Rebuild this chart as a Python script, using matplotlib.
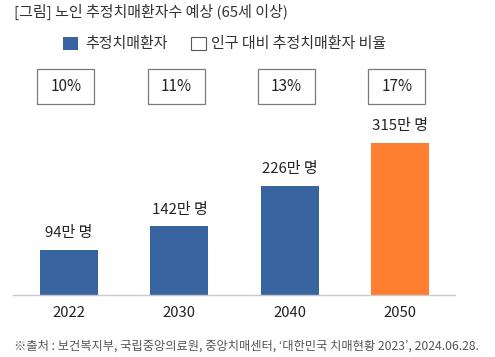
import matplotlib
matplotlib.use('Agg')
import matplotlib.pyplot as plt
from matplotlib.patches import Rectangle
from matplotlib.transforms import blended_transform_factory

plt.rcParams['font.family'] = ['Noto Sans CJK KR', 'DejaVu Sans']

# 데이터
years = ['2022', '2030', '2040', '2050']
patients = [94, 142, 226, 315]          # 만 명
ratios = ['10%', '11%', '13%', '17%']
bar_colors = ['#3865A0', '#3865A0', '#3865A0', '#FF7F30']

W, H = 495, 357
fig = plt.figure(figsize=(W / 100, H / 100), dpi=100)
fig.patch.set_facecolor('white')


def fx(px):
    return px / W


def fy(py):
    return 1 - py / H


# 막대 영역: 픽셀 기준 x 13~455, 기준선 y 295
ax = fig.add_axes([fx(13), fy(295), fx(455 - 13), (295 - 120) / H])
x = range(len(years))
ax.bar(x, patients, width=0.526, color=bar_colors, zorder=2)
ax.set_xlim(-0.508, 3.498)
ax.set_ylim(0, 175 / 0.483)
for s in ['top', 'right', 'left']:
    ax.spines[s].set_visible(False)
ax.spines['bottom'].set_color('#C8C8C8')
ax.spines['bottom'].set_linewidth(1.0)
ax.set_yticks([])
ax.set_xticks(list(x))
ax.set_xticklabels(years, fontsize=10.7, color='#222222')
ax.tick_params(axis='x', length=0, pad=8)

for i, v in enumerate(patients):
    ax.annotate(f'{v}만 명', (i, v), xytext=(0, 7), textcoords='offset points',
                ha='center', va='bottom', fontsize=10.8, color='#222222')

# 비율 박스 (x는 데이터 좌표, y는 figure 좌표)
trans = blended_transform_factory(ax.transData, fig.transFigure)
box_w = 57 / 110.33
for i, r in enumerate(ratios):
    cx = i - 0.03
    fig.add_artist(Rectangle((cx - box_w / 2, fy(104)), box_w, 35 / H,
                             transform=trans, facecolor='white',
                             edgecolor='#7A7A7A', linewidth=0.9))
    fig.text(cx, fy(86.5), r, transform=trans, ha='center', va='center',
             fontsize=11, color='#222222')

# 제목
fig.text(fx(14), fy(12), '[그림] 노인 추정치매환자수 예상 (65세 이상)',
         ha='left', va='center', fontsize=10.8, color='#333333')

# 범례
fig.add_artist(Rectangle((fx(63), fy(50)), fx(15), 13 / H,
                         transform=fig.transFigure, facecolor='#3865A0',
                         edgecolor='none'))
fig.text(fx(85), fy(43.5), '추정치매환자', ha='left', va='center',
         fontsize=10.8, color='#333333')
fig.add_artist(Rectangle((fx(191), fy(50)), fx(15), 13 / H,
                         transform=fig.transFigure, facecolor='white',
                         edgecolor='#555555', linewidth=0.8))
fig.text(fx(211), fy(43.5), '인구 대비 추정치매환자 비율', ha='left', va='center',
         fontsize=10.8, color='#333333')

# 출처
fig.text(fx(14), fy(346), '※출처 : 보건복지부, 국립중앙의료원, 중앙치매센터, ‘대한민국 치매현황 2023’, 2024.06.28.',
         ha='left', va='center', fontsize=8.8, color='#555555')

fig.savefig('out.png', dpi=100, facecolor='white')
